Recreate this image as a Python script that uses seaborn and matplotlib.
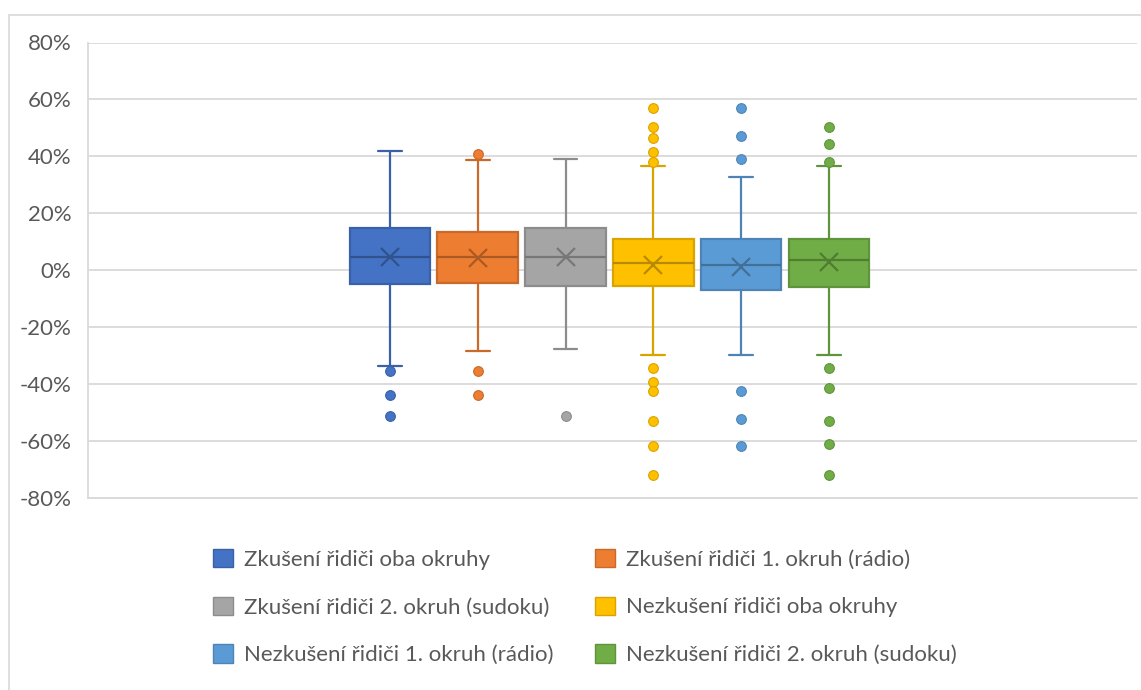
import matplotlib
matplotlib.use("Agg")
import matplotlib.pyplot as plt
import matplotlib.colors as mcolors
from matplotlib.patches import Patch
from matplotlib.lines import Line2D
from matplotlib.ticker import FuncFormatter, MultipleLocator
import seaborn as sns

# Driver groups (legend order)
groups = [
    "Zkušení řidiči oba okruhy",
    "Zkušení řidiči 1. okruh (rádio)",
    "Zkušení řidiči 2. okruh (sudoku)",
    "Nezkušení řidiči oba okruhy",
    "Nezkušení řidiči 1. okruh (rádio)",
    "Nezkušení řidiči 2. okruh (sudoku)",
]
colors = ["#4472C4", "#ED7D31", "#A5A5A5", "#FFC000", "#5B9BD5", "#70AD47"]

# Five-number summaries, means and outliers (relative deviation, fraction)
q1 = [-0.049, -0.045, -0.054, -0.057, -0.070, -0.059]
median = [0.046, 0.045, 0.046, 0.024, 0.017, 0.037]
q3 = [0.148, 0.136, 0.149, 0.111, 0.111, 0.111]
mean = [0.045, 0.043, 0.046, 0.019, 0.013, 0.029]
whisker_low = [-0.338, -0.285, -0.275, -0.298, -0.296, -0.298]
whisker_high = [0.419, 0.386, 0.391, 0.365, 0.326, 0.365]
outliers = [
    [-0.353, -0.437, -0.512],
    [0.409, -0.353, -0.437],
    [-0.512],
    [0.571, 0.502, 0.463, 0.416, 0.381, -0.344, -0.394, -0.424, -0.529, -0.617, -0.719],
    [0.571, 0.470, 0.390, -0.424, -0.521, -0.617],
    [0.502, 0.444, 0.381, -0.344, -0.413, -0.529, -0.610, -0.719],
]

sns.set_theme(style="white")
plt.rcParams["font.family"] = ["Lato", "DejaVu Sans"]


def darker(c, f=0.82):
    r, g, b = mcolors.to_rgb(c)
    return (r * f, g * f, b * f)


fig = plt.figure(figsize=(11.41, 6.90), dpi=100)
ax = fig.add_axes([88 / 1141, 1 - 498 / 690, (1137 - 88) / 1141, (498 - 42.5) / 690])

for i, g in enumerate(groups):
    stat = dict(label=g, q1=q1[i], med=median[i], q3=q3[i], mean=mean[i],
                whislo=whisker_low[i], whishi=whisker_high[i], fliers=outliers[i])
    fc = colors[i]
    ec = darker(fc, 0.85)
    dc = darker(fc, 0.72)
    ax.bxp(
        [stat], positions=[i], widths=0.92, patch_artist=True, showmeans=True,
        capwidths=[0.27], manage_ticks=False,
        boxprops=dict(facecolor=fc, edgecolor=ec, linewidth=1.6),
        whiskerprops=dict(color=ec, linewidth=1.6),
        capprops=dict(color=ec, linewidth=1.6),
        medianprops=dict(color=dc, linewidth=1.6),
        meanprops=dict(marker="x", markersize=13, markeredgecolor=dc,
                       markeredgewidth=1.6, linestyle="none"),
        flierprops=dict(marker="o", markersize=7, markerfacecolor=fc,
                        markeredgecolor=ec, markeredgewidth=0.8, linestyle="none"),
    )

ax.set_xlim(-3.44, 8.51)
ax.set_ylim(-0.8, 0.8)
ax.yaxis.set_major_locator(MultipleLocator(0.2))
ax.yaxis.set_major_formatter(FuncFormatter(lambda v, _: f"{v * 100:.0f}%"))
ax.set_xticks([])
ax.yaxis.grid(True, color="#d9d9d9", linewidth=1.3)
ax.set_axisbelow(True)
ax.tick_params(axis="y", labelsize=16, labelcolor="#595959", length=0, pad=12)
for side in ["top", "right"]:
    ax.spines[side].set_visible(False)
for side in ["left", "bottom"]:
    ax.spines[side].set_color("#d9d9d9")
    ax.spines[side].set_linewidth(1.3)

# Outer chart frame
fig.add_artist(Line2D([9 / 1141, 9 / 1141], [0, 1 - 14.5 / 690],
                      transform=fig.transFigure, color="#d9d9d9", linewidth=1.2))
fig.add_artist(Line2D([9 / 1141, 1], [1 - 14.5 / 690, 1 - 14.5 / 690],
                      transform=fig.transFigure, color="#d9d9d9", linewidth=1.2))

# Legend filled row by row
handles = [Patch(facecolor=c, edgecolor=darker(c, 0.85), linewidth=1.0) for c in colors]
order = [0, 2, 4, 1, 3, 5]
fig.legend([handles[k] for k in order], [groups[k] for k in order], ncol=2,
           loc="upper left", bbox_to_anchor=(193 / 1141, 1 - 529 / 690),
           frameon=False, fontsize=16, labelcolor="#595959",
           handlelength=0.9, handleheight=0.9, handletextpad=0.5,
           columnspacing=1.84, labelspacing=1.2)

fig.savefig("out.png", dpi=100, facecolor="white")
